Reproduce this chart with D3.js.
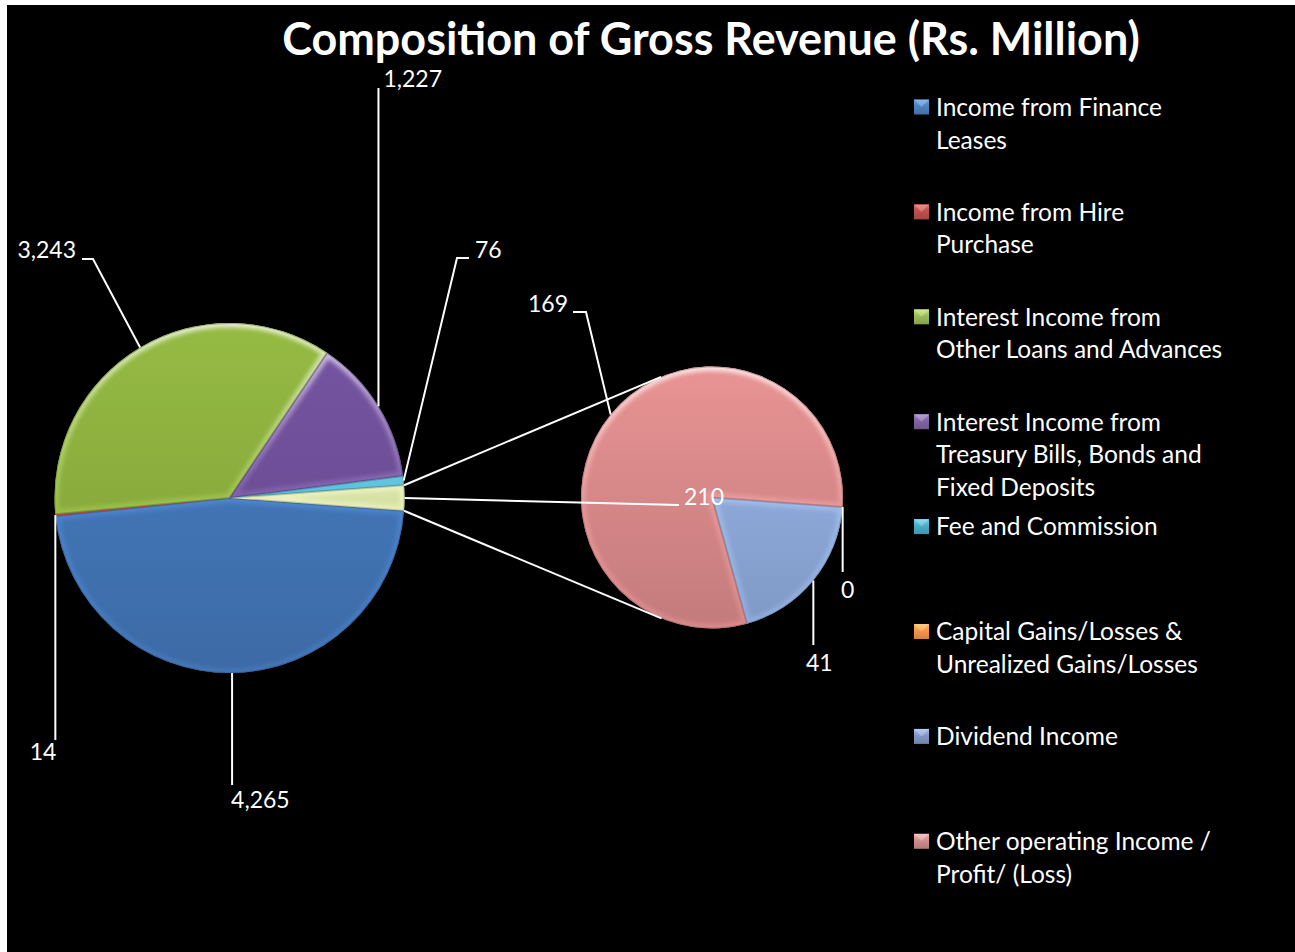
<!DOCTYPE html>
<html>
<head>
<meta charset="utf-8">
<script src="https://cdn.jsdelivr.net/npm/d3@7/dist/d3.min.js"></script>
<style>
  html, body { margin: 0; padding: 0; background: #ffffff; }
  svg { display: block; }
  text { font-family: Lato, "Open Sans", sans-serif; fill: #ffffff; }
</style>
</head>
<body>
<svg id="chart" width="1295" height="952"></svg>
<script>
// Gross revenue composition, Rs. Million
const categories = [
  "Income from Finance Leases",
  "Income from Hire Purchase",
  "Interest Income from Other Loans and Advances",
  "Interest Income from Treasury Bills, Bonds and Fixed Deposits",
  "Fee and Commission",
  "Capital Gains/Losses & Unrealized Gains/Losses",
  "Dividend Income",
  "Other operating Income / Profit/ (Loss)"
];
const values = [4265, 14, 3243, 1227, 76, 0, 41, 169];
// the last N categories are split out into the secondary pie
const secondaryCount = 3;
const legendLines = [
  ["Income from Finance", "Leases"],
  ["Income from Hire", "Purchase"],
  ["Interest Income from", "Other Loans and Advances"],
  ["Interest Income from", "Treasury Bills, Bonds and", "Fixed Deposits"],
  ["Fee and Commission"],
  ["Capital Gains/Losses &", "Unrealized Gains/Losses"],
  ["Dividend Income"],
  ["Other operating Income /", "Profit/ (Loss)"]
];
const titleText = "Composition of Gross Revenue (Rs. Million)";

const seriesColors = ["#4376b8", "#c0504d", "#8cae3e", "#6e4f98", "#4bacc6", "#f79646", "#8eaadb", "#d9898a"];
const otherColor = "#d9e5a8";
const legendColors = ["#4f81bd", "#c0504d", "#9bbb59", "#8064a2", "#4bacc6", "#f79646", "#8197c4", "#cf8e8d"];

const svg = d3.select("#chart");
const defs = svg.append("defs");
const fmt = d3.format(",");

// black chart area
svg.append("rect").attr("x", 7).attr("y", 5).attr("width", 1288).attr("height", 947).attr("fill", "#000");

// ---- data split ----
const mainCount = categories.length - secondaryCount;
const mainData = categories.slice(0, mainCount).map((c, i) => ({ name: c, value: values[i], color: seriesColors[i] }));
const otherValue = d3.sum(values.slice(mainCount));
mainData.push({ name: "Other", value: otherValue, color: otherColor, isOther: true });
const secData = categories.slice(mainCount).map((c, i) => ({ name: c, value: values[mainCount + i], color: seriesColors[mainCount + i] }));

const total = d3.sum(mainData, d => d.value);
const otherSweep = 2 * Math.PI * otherValue / total;
// "Other" slice is centred on 3 o'clock
const start = Math.PI / 2 + otherSweep / 2;

const mainC = [229.5, 498], mainR = 175;
const secC = [712, 497.5], secR = 131;

const pie = d3.pie().sort(null).value(d => d.value).startAngle(start).endAngle(start + 2 * Math.PI);
const mainArcs = pie(mainData);
const secArcs = pie(secData);

// blur for the soft bevelled rim
const blur = defs.append("filter").attr("id", "soft").attr("x", "-20%").attr("y", "-20%").attr("width", "140%").attr("height", "140%");
blur.append("feGaussianBlur").attr("stdDeviation", 2.2);

let gid = 0;
function vGrad(y0, y1, stops) {
  const id = "g" + (gid++);
  const g = defs.append("linearGradient").attr("id", id)
    .attr("gradientUnits", "userSpaceOnUse").attr("x1", 0).attr("x2", 0).attr("y1", y0).attr("y2", y1);
  stops.forEach(s => g.append("stop").attr("offset", s[0]).attr("stop-color", s[1]).attr("stop-opacity", s[2] == null ? 1 : s[2]));
  return "url(#" + id + ")";
}

function drawPie(arcs, center, r) {
  const g = svg.append("g").attr("transform", `translate(${center[0]},${center[1]})`);
  const arc = d3.arc().innerRadius(0).outerRadius(r);
  arcs.forEach(a => {
    if (a.endAngle - a.startAngle <= 0) return;
    const base = d3.color(a.data.color);
    const d = arc(a);
    const cid = "clip" + (gid++);
    defs.append("clipPath").attr("id", cid).append("path").attr("d", d)
      .attr("transform", `translate(${center[0]},${center[1]})`);
    g.append("path").attr("d", d)
      .attr("fill", vGrad(-r, r, [[0, base.brighter(0.2)], [1, base.darker(0.3)]]));
    // rim highlight / shade, kept inside the slice
    const rim = svg.append("g").attr("clip-path", `url(#${cid})`)
      .append("g").attr("transform", `translate(${center[0]},${center[1]})`);
    rim.append("path").attr("d", d).attr("fill", "none")
      .attr("stroke", vGrad(-r, r, [[0, "#ffffff", 0.75], [0.55, base.brighter(0.6), 0.45], [1, base.brighter(0.3), 0.5]]))
      .attr("stroke-width", 9).attr("filter", "url(#soft)");
    rim.append("path").attr("d", d).attr("fill", "none")
      .attr("stroke", base.darker(0.9)).attr("stroke-opacity", 0.55).attr("stroke-width", 2);
  });
  return g;
}

drawPie(mainArcs, mainC, mainR);
drawPie(secArcs, secC, secR);

// ---- connector lines: from the edges of "Other" to tangents on the secondary pie ----
function polar(center, r, a) { return [center[0] + r * Math.sin(a), center[1] - r * Math.cos(a)]; }
const otherArc = mainArcs[mainArcs.length - 1];
const pUp = polar(mainC, mainR, otherArc.startAngle);
const pDown = polar(mainC, mainR, otherArc.endAngle);
function tangent(p, upper) {
  const dx = p[0] - secC[0], dy = p[1] - secC[1];
  const dist = Math.hypot(dx, dy);
  const phi = Math.atan2(dy, dx), alpha = Math.acos(secR / dist);
  const t1 = [secC[0] + secR * Math.cos(phi + alpha), secC[1] + secR * Math.sin(phi + alpha)];
  const t2 = [secC[0] + secR * Math.cos(phi - alpha), secC[1] + secR * Math.sin(phi - alpha)];
  return upper ? (t1[1] < t2[1] ? t1 : t2) : (t1[1] > t2[1] ? t1 : t2);
}
const line = d3.line();
svg.append("path").attr("d", line([pUp, tangent(pUp, true)])).attr("stroke", "#fff").attr("stroke-width", 2).attr("fill", "none");
svg.append("path").attr("d", line([pDown, tangent(pDown, false)])).attr("stroke", "#fff").attr("stroke-width", 2).attr("fill", "none");

// ---- data labels with leader lines ----
const LABEL_SIZE = 23;
const LEGEND_SIZE = 24.5;
const mainRoutes = [
  { pts: p => [[p[0], 785]], text: p => [p[0] - 1, 800], anchor: "start" },
  { pts: p => [[p[0], 740]], text: p => [p[0] + 1, 752], anchor: "end" },
  { pts: p => [[93, 259], [82, 259]], text: p => [76, 250], anchor: "end" },
  { pts: p => [[p[0], 88]], text: p => [p[0] + 5, 79], anchor: "start" },
  { pts: p => [[457, 258], [469, 258]], text: p => [475, 250], anchor: "start" },
  { pts: p => [[679, 505]], text: p => [684, 497], anchor: "start" }
];
const secRoutes = [
  { pts: p => [[p[0], 572]], text: p => [p[0] + 5, 590], anchor: "middle" },
  { pts: p => [[p[0], 645]], text: p => [p[0] + 6, 663], anchor: "middle" },
  { pts: p => [[586, 312], [573, 312]], text: p => [568, 304], anchor: "end" }
];
const labelG = svg.append("g");
function drawLabels(arcs, center, r, routes) {
  arcs.forEach((a, i) => {
    const mid = (a.startAngle + a.endAngle) / 2;
    const p = polar(center, r, mid);
    const route = routes[i];
    labelG.append("path").attr("d", line([p].concat(route.pts(p))))
      .attr("fill", "none").attr("stroke", "#fff").attr("stroke-width", 2);
    const t = route.text(p);
    labelG.append("text").attr("x", t[0]).attr("y", t[1]).attr("dy", "0.36em")
      .attr("text-anchor", route.anchor).attr("font-size", LABEL_SIZE)
      .text(fmt(a.data.value));
  });
}
drawLabels(mainArcs, mainC, mainR, mainRoutes);
drawLabels(secArcs, secC, secR, secRoutes);

// ---- title, sized to span the chart header ----
const title = svg.append("text").attr("x", 711).attr("y", 39).attr("dy", "0.36em")
  .attr("text-anchor", "middle").attr("font-weight", 700).attr("font-size", 40)
  .text(titleText);
const tw = title.node().getComputedTextLength();
title.attr("font-size", 40 * 858 / tw);

// ---- legend ----
const legend = svg.append("g");
const LEG_Y0 = 107, LEG_STEP = 104.9, LEG_LINE = 32.7;
legendLines.forEach((lines, i) => {
  const cy = LEG_Y0 + i * LEG_STEP;
  const col = d3.color(legendColors[i]);
  legend.append("rect").attr("x", 914).attr("y", cy - 7.5).attr("width", 15).attr("height", 15)
    .attr("fill", vGrad(cy - 7.5, cy + 7.5, [[0, col.brighter(0.6)], [0.45, col], [1, col.darker(0.4)]]));
  legend.append("path").attr("d", `M914,${cy - 7.5}L921.5,${cy}L929,${cy - 7.5}Z`)
    .attr("fill", "#fff").attr("fill-opacity", 0.25);
  lines.forEach((s, k) => {
    legend.append("text").attr("x", 936).attr("y", cy + k * LEG_LINE).attr("dy", "0.36em")
      .attr("font-size", LEGEND_SIZE).text(s);
  });
});
</script>
</body>
</html>
